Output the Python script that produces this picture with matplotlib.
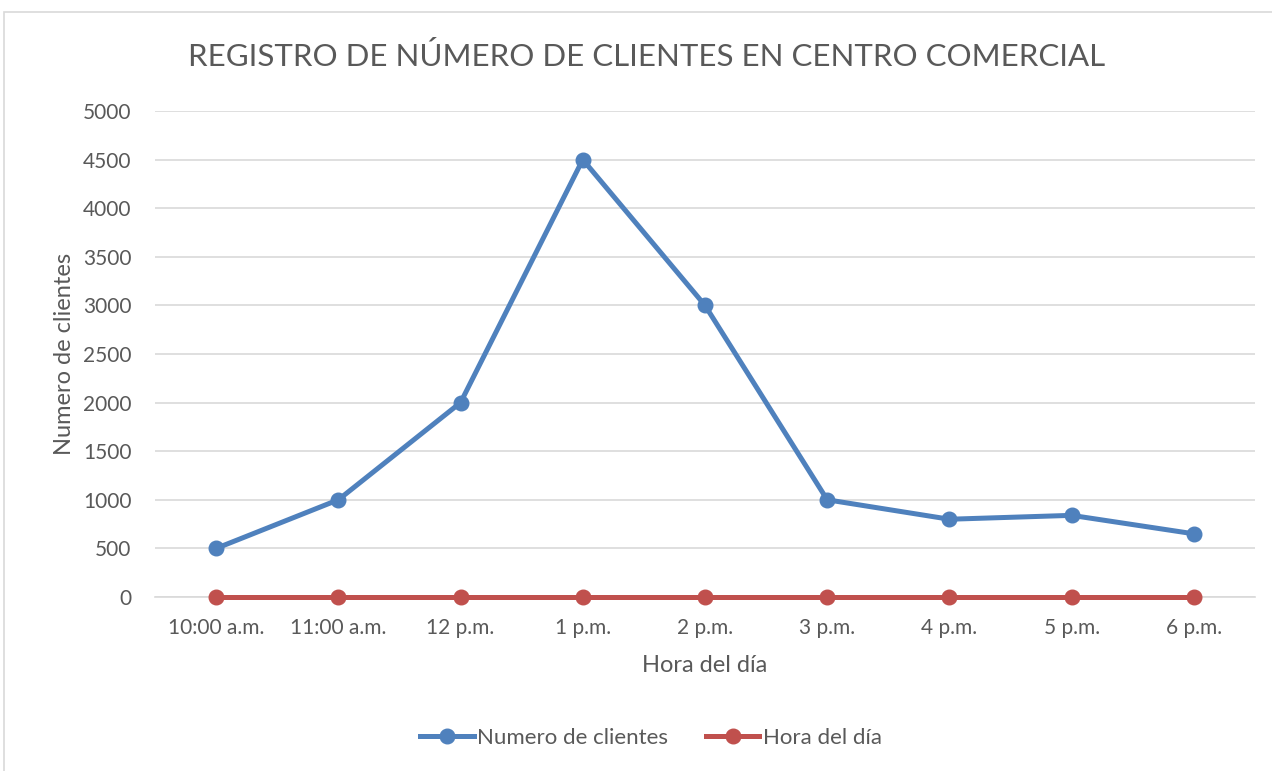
import matplotlib
matplotlib.use("Agg")
import matplotlib.pyplot as plt
from matplotlib.patches import Rectangle

categories = ["10:00 a.m.", "11:00 a.m.", "12 p.m.", "1 p.m.", "2 p.m.", "3 p.m.", "4 p.m.", "5 p.m.", "6 p.m."]
clientes = [500, 1000, 2000, 4500, 3000, 1000, 800, 840, 650]
hora = [0, 0, 0, 0, 0, 0, 0, 0, 0]
yticks = [0, 500, 1000, 1500, 2000, 2500, 3000, 3500, 4000, 4500, 5000]

plt.rcParams['font.family'] = ['Lato', 'DejaVu Sans']
txt = '#595959'

fig = plt.figure(figsize=(12.72, 7.71), dpi=100)
fig.patches.append(Rectangle((4/1272, -0.01), 1.0, 1 - 12/771 + 0.01, transform=fig.transFigure,
                             fill=False, edgecolor='#D9D9D9', linewidth=1.2))
ax = fig.add_axes([155/1272, 1 - 597/771, 1100/1272, 486/771])

x = list(range(len(categories)))
ax.plot(x, clientes, color='#4F81BD', linewidth=3.6, marker='o', markersize=10.5,
        label='Numero de clientes', zorder=3, clip_on=False)
ax.plot(x, hora, color='#C0504D', linewidth=3.6, marker='o', markersize=10.5,
        label='Hora del día', zorder=3, clip_on=False)

ax.set_xlim(-0.5, len(categories) - 0.5)
ax.set_ylim(0, 5000)
ax.set_yticks(yticks)
ax.set_xticks(x)
ax.set_xticklabels(categories)
ax.grid(axis='y', color='#D9D9D9', linewidth=1.2)
ax.set_axisbelow(True)
for s in ['top', 'right', 'left']:
    ax.spines[s].set_visible(False)
ax.spines['bottom'].set_color('#D9D9D9')
ax.spines['bottom'].set_linewidth(1.2)
ax.tick_params(length=0, labelsize=15, colors=txt)
ax.tick_params(axis='x', pad=15)
ax.tick_params(axis='y', pad=17)
ax.set_xlabel('Hora del día', fontsize=17, color=txt, labelpad=12)
ax.set_ylabel('Numero de clientes', fontsize=17, color=txt, labelpad=6)

fig.text(647/1272, 1 - 56/771, 'REGISTRO DE NÚMERO DE CLIENTES EN CENTRO COMERCIAL',
         ha='center', va='center', fontsize=22.5, color=txt)

leg = fig.legend(loc='center', bbox_to_anchor=(651/1272, 1 - 738/771), ncol=2, frameon=False,
                 fontsize=16, handlelength=2.4, columnspacing=1.7, handletextpad=0.15)
for t in leg.get_texts():
    t.set_color(txt)

fig.savefig('out.png', dpi=100)
